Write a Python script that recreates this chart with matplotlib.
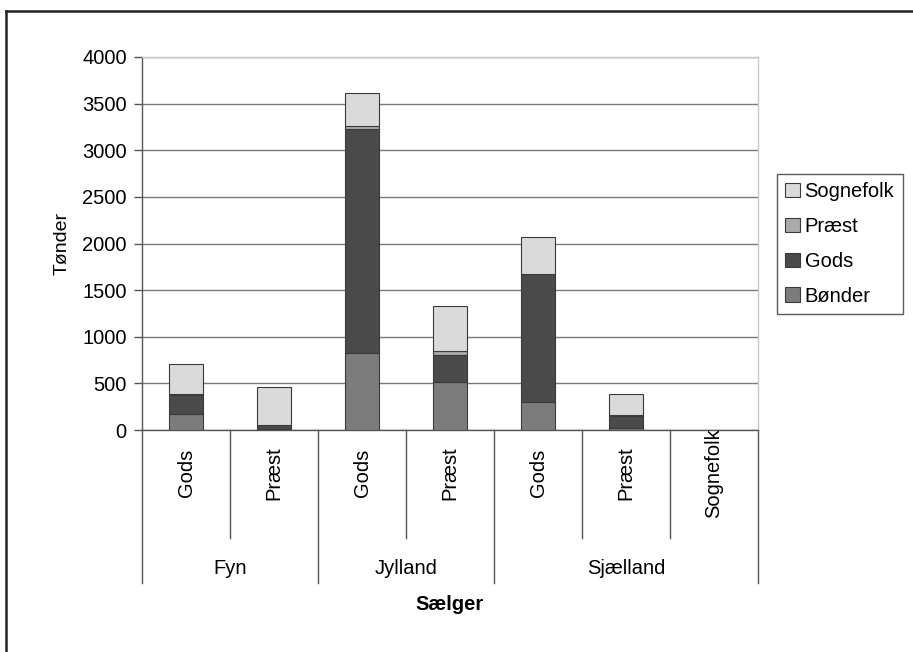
import matplotlib
matplotlib.use("Agg")
import matplotlib.pyplot as plt
from matplotlib.patches import Patch
from matplotlib.lines import Line2D
import matplotlib.transforms as mtransforms

plt.rcParams['font.family'] = ['Liberation Sans', 'DejaVu Sans']

# Seller categories (inner level) and regions (outer level)
categories = ["Gods", "Præst", "Gods", "Præst", "Gods", "Præst", "Sognefolk"]
regions = ["Fyn", "Jylland", "Sjælland"]
region_sizes = [2, 2, 3]

# Buyer series, in tønder
boender = [170, 10, 830, 520, 305, 20, 0]
gods = [210, 40, 2395, 280, 1365, 130, 0]
praest = [5, 0, 35, 50, 0, 10, 0]
sognefolk = [320, 410, 350, 480, 400, 225, 0]

series = [("Bønder", boender, "#7c7c7c"),
          ("Gods", gods, "#4a4a4a"),
          ("Præst", praest, "#ababab"),
          ("Sognefolk", sognefolk, "#dadada")]

FS = 14.5
W, H = 913, 652
fig = plt.figure(figsize=(W / 100, H / 100), dpi=100)
fig.patch.set_facecolor("white")

ax_l, ax_r, ax_t, ax_b = 142, 758, 57, 430
ax = fig.add_axes([ax_l / W, 1 - ax_b / H, (ax_r - ax_l) / W, (ax_b - ax_t) / H])

x = list(range(len(categories)))
bottom = [0] * len(categories)
handles = []
for name, vals, col in series:
    bars = ax.bar(x, vals, width=0.39, bottom=bottom, color=col,
                  edgecolor="#3a3a3a", linewidth=0.8, zorder=3)
    for b, v in zip(bars, vals):
        if v == 0:
            b.set_visible(False)
    bottom = [b + v for b, v in zip(bottom, vals)]
    handles.append(Patch(facecolor=col, edgecolor="#3a3a3a", linewidth=0.8, label=name))

ax.set_xlim(-0.5, len(categories) - 0.5)
ax.set_ylim(0, 4000)
ax.set_yticks(range(0, 4001, 500))
ax.yaxis.grid(True, color="#7a7a7a", linewidth=1.0, zorder=0)
ax.set_axisbelow(True)
ax.tick_params(axis="y", length=6, width=1.0, color="#555555", labelsize=FS, pad=5)
ax.set_xticks([])
for s in ("top", "right"):
    ax.spines[s].set_color("#c8c8c8")
    ax.spines[s].set_linewidth(1.0)
for s in ("left", "bottom"):
    ax.spines[s].set_color("#555555")
    ax.spines[s].set_linewidth(1.0)
ax.set_ylabel("Tønder", fontsize=FS - 0.5, labelpad=8)

# Multi-level category axis below the plot
trans = mtransforms.blended_transform_factory(ax.transData, ax.transAxes)
h_px = ax_b - ax_t
def ay(py):
    return (ax_b - py) / h_px

for i, lab in enumerate(categories):
    ax.text(i, ay(473), lab, rotation=90, ha="center", va="center",
            fontsize=FS, transform=trans)

edges = [-0.5]
for n in region_sizes:
    edges.append(edges[-1] + n)
group_edges = set(edges)
for k in range(len(categories) + 1):
    xe = k - 0.5
    y_end = ay(583) if xe in group_edges else ay(538)
    ax.add_line(Line2D([xe, xe], [0, y_end], color="#555555", linewidth=1.0,
                       transform=trans, clip_on=False))
for g, lab in enumerate(regions):
    xc = (edges[g] + edges[g + 1]) / 2
    ax.text(xc, ay(569), lab, ha="center", va="center", fontsize=FS, transform=trans)

ax.text(0.5, ay(605), "Sælger", ha="center", va="center", fontsize=FS,
        fontweight="bold", transform=ax.transAxes)

# Legend with the top series first
leg = fig.legend(handles=handles[::-1], loc="upper left",
                 bbox_to_anchor=(777 / W, 1 - 174 / H), frameon=True,
                 fontsize=FS, handlelength=0.7, handleheight=0.7,
                 handletextpad=0.25, labelspacing=0.78, borderpad=0.42,
                 borderaxespad=0, fancybox=False)
leg.get_frame().set_edgecolor("#333333")
leg.get_frame().set_linewidth(1.0)

# Outer chart frame
fig.add_artist(Line2D([6 / W, 6 / W], [0, 1 - 11 / H], color="#222222",
                      linewidth=1.8, transform=fig.transFigure))
fig.add_artist(Line2D([6 / W, 1], [1 - 11 / H, 1 - 11 / H], color="#222222",
                      linewidth=1.8, transform=fig.transFigure))

fig.savefig("out.png", dpi=100, facecolor="white")
